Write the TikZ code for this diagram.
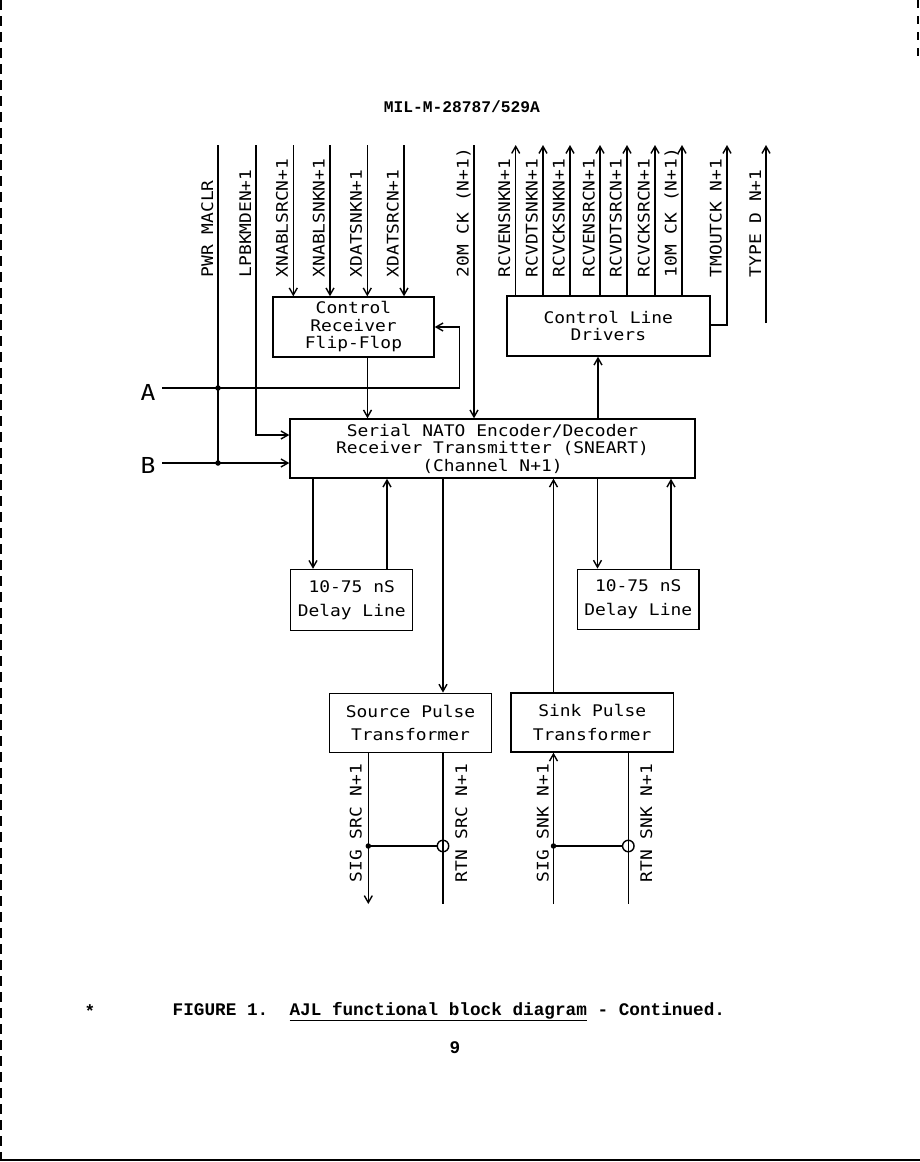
\documentclass[tikz,border=0pt]{standalone}
\usepackage{fontspec}
\usetikzlibrary{arrows.meta}
\newfontfamily\plotfont[FakeStretch=1.12]{DejaVu Sans Mono}
\newfontfamily\typefont{Liberation Mono}

\tikzset{
	blk/.style={draw, inner sep=0pt, align=center, font=\plotfont\fontsize{16}{17.5}\selectfont},
	blkwide/.style={blk, font=\plotfont\fontsize{16}{23.5}\selectfont},
	sig/.style={rotate=90, anchor=base west, inner sep=0pt, font=\plotfont\fontsize{16}{18}\selectfont},
	port/.style={inner sep=0pt, font=\plotfont\fontsize{22}{24}\selectfont},
	joint/.style={fill, circle, inner sep=0pt, minimum size=5.5pt},
	ring/.style={draw, circle, inner sep=0pt, minimum size=11.5pt},
	doc/.style={inner sep=0pt, font=\typefont\bfseries\fontsize{17.7}{19}\selectfont}
}

\begin{document}
\begin{tikzpicture}[x=1pt, y=-1pt, line width=1.4pt, >={Straight Barb[length=7pt,width=8pt]}]
	
	\useasboundingbox (0,0) rectangle (920,1162);
	\fill[white] (0,0) rectangle (920,1162);
	
	\draw[line width=2pt, dash pattern=on 10pt off 6pt] (1,0) -- (1,1160);
	\draw[line width=1.5pt, dash pattern=on 8pt off 8pt] (918,0) -- (918,60);
	\draw[line width=2pt] (0,1160) -- (920,1160);
	
	\node[doc, font=\typefont\bfseries\fontsize{16.25}{18}\selectfont] (title) at (462,107) {MIL-M-28787/529A};
	
	\node[blk, minimum width=161pt, minimum height=60pt] (ctrlrx) at (353.5,327) {Control\\Receiver\\Flip-Flop};
	\node[blk, minimum width=203pt, minimum height=60pt] (drivers) at (608.3,326) {Control Line\\Drivers};
	\node[blk, minimum width=405pt, minimum height=59pt] (sneart) at (492.5,448.5) {Serial NATO Encoder/Decoder\\Receiver Transmitter (SNEART)\\(Channel N+1)};
	\node[blkwide, minimum width=122pt, minimum height=61pt] (delayL) at (351.7,600) {10-75 nS\\Delay Line};
	\node[blkwide, minimum width=121.7pt, minimum height=60pt] (delayR) at (638.2,599.3) {10-75 nS\\Delay Line};
	\node[blkwide, minimum width=162.4pt, minimum height=59.4pt] (srcxf) at (410.5,723) {Source Pulse\\Transformer};
	\node[blkwide, minimum width=162.3pt, minimum height=59pt] (snkxf) at (592.2,722.5) {Sink Pulse\\Transformer};
	
	\coordinate (pwr) at (218,145);
	\coordinate (lpbk) at (256,145);
	\coordinate (xnablsrc) at (293.3,145);
	\coordinate (xnablsnk) at (330,145);
	\coordinate (xdatsnk) at (367.3,145);
	\coordinate (xdatsrc) at (404,145);
	\coordinate (ckin) at (474,145);
	\coordinate (rcvensnk) at (515.7,145);
	\coordinate (rcvdtsnk) at (543,145);
	\coordinate (rcvcksnk) at (570,145);
	\coordinate (rcvensrc) at (600,145);
	\coordinate (rcvdtsrc) at (627,145);
	\coordinate (rcvcksrc) at (655,145);
	\coordinate (ckout) at (682,145);
	\coordinate (tmoutck) at (727,145);
	\coordinate (typed) at (766,145);
	\coordinate (typedend) at (766,323);
	
	\node[sig] (pwrlbl) at (213,278) {PWR MACLR};
	\node[sig] (lpbklbl) at (251,278) {LPBKMDEN+1};
	\node[sig] (xnablsrclbl) at (287.8,278) {XNABLSRCN+1};
	\node[sig] (xnablsnklbl) at (324.5,278) {XNABLSNKN+1};
	\node[sig] (xdatsnklbl) at (361.8,278) {XDATSNKN+1};
	\node[sig] (xdatsrclbl) at (398.5,278) {XDATSRCN+1};
	\node[sig] (ckinlbl) at (468.5,278) {20M CK (N+1)};
	\node[sig] (rcvensnklbl) at (510.2,278) {RCVENSNKN+1};
	\node[sig] (rcvdtsnklbl) at (537.5,278) {RCVDTSNKN+1};
	\node[sig] (rcvcksnklbl) at (564.5,278) {RCVCKSNKN+1};
	\node[sig] (rcvensrclbl) at (594.5,278) {RCVENSRCN+1};
	\node[sig] (rcvdtsrclbl) at (621.5,278) {RCVDTSRCN+1};
	\node[sig] (rcvcksrclbl) at (649.5,278) {RCVCKSRCN+1};
	\node[sig] (ckoutlbl) at (676.5,278) {10M CK (N+1)};
	\node[sig] (tmoutcklbl) at (721.5,278) {TMOUTCK N+1};
	\node[sig] (typedlbl) at (761,278) {TYPE D N+1};
	
	\draw[->] (xnablsrc) -- (ctrlrx.north -| xnablsrc);
	\draw[->] (xnablsnk) -- (ctrlrx.north -| xnablsnk);
	\draw[->] (xdatsnk) -- (ctrlrx.north -| xdatsnk);
	\draw[->] (xdatsrc) -- (ctrlrx.north -| xdatsrc);
	\draw[->] (ckin) -- (sneart.north -| ckin);
	
	\draw[->] (drivers.north -| rcvensnk) -- (rcvensnk);
	\draw[->] (drivers.north -| rcvdtsnk) -- (rcvdtsnk);
	\draw[->] (drivers.north -| rcvcksnk) -- (rcvcksnk);
	\draw[->] (drivers.north -| rcvensrc) -- (rcvensrc);
	\draw[->] (drivers.north -| rcvdtsrc) -- (rcvdtsrc);
	\draw[->] (drivers.north -| rcvcksrc) -- (rcvcksrc);
	\draw[->] (drivers.north -| ckout) -- (ckout);
	\draw[->] (drivers.east |- 0,325) -| (tmoutck);
	\draw[->] (typedend) -- (typed);
	
	\node[port] (A) at (148,392) {A};
	\node[port] (B) at (148,465) {B};
	\coordinate (astart) at (162,388);
	\coordinate (ajoin) at (459.5,388);
	\coordinate (bstart) at (162,463);
	\node[joint] (ajunc) at (218,388) {};
	\node[joint] (bjunc) at (218,463) {};
	
	\draw (pwr) -- (bjunc.center);
	\draw[->] (astart) -- (ajoin) |- (ctrlrx.east |- 0,327);
	\draw[->] (bstart) -- (sneart.west |- bstart);
	\draw[->] (lpbk) |- (sneart.west |- 0,435);
	\draw[->] (ctrlrx.south -| 367.5,0) -- (sneart.north -| 367.5,0);
	\draw[->] (sneart.north -| 598,0) -- (drivers.south -| 598,0);
	
	\draw[->] (sneart.south -| 313,0) -- (delayL.north -| 313,0);
	\draw[->] (delayL.north -| 387,0) -- (sneart.south -| 387,0);
	\draw[->] (sneart.south -| 443,0) -- (srcxf.north -| 443,0);
	\draw[->] (snkxf.north -| 553.5,0) -- (sneart.south -| 553.5,0);
	\draw[->] (sneart.south -| 597.5,0) -- (delayR.north -| 597.5,0);
	\draw[->] (delayR.north -| 671,0) -- (sneart.south -| 671,0);
	
	\coordinate (sigsrc) at (368.3,904);
	\coordinate (rtnsrc) at (443,904);
	\coordinate (sigsnk) at (553.5,904);
	\coordinate (rtnsnk) at (628.3,904);
	\node[joint] (srcdot) at (368.3,846) {};
	\node[ring] (srcring) at (443,846) {};
	\node[joint] (snkdot) at (553.5,846) {};
	\node[ring] (snkring) at (628.3,846) {};
	
	\draw[->] (srcxf.south -| sigsrc) -- (sigsrc);
	\draw (srcxf.south -| rtnsrc) -- (rtnsrc);
	\draw[->] (sigsnk) -- (snkxf.south -| sigsnk);
	\draw (snkxf.south -| rtnsnk) -- (rtnsnk);
	\draw (srcdot.center) -- (srcring.west);
	\draw (snkdot.center) -- (snkring.west);
	
	\node[sig] (sigsrclbl) at (361.5,883) {SIG SRC N+1};
	\node[sig] (rtnsrclbl) at (467,883) {RTN SRC N+1};
	\node[sig] (sigsnklbl) at (548.5,883) {SIG SNK N+1};
	\node[sig] (rtnsnklbl) at (652,883) {RTN SNK N+1};
	
	\node[doc] (star) at (90,1011) {*};
	\node[doc, anchor=base west] (caption) at (172,1015) {FIGURE 1.\ \ \underline{AJL functional block diagram} - Continued.};
	\node[doc] (pageno) at (455,1048) {9};
	
\end{tikzpicture}
\end{document}
